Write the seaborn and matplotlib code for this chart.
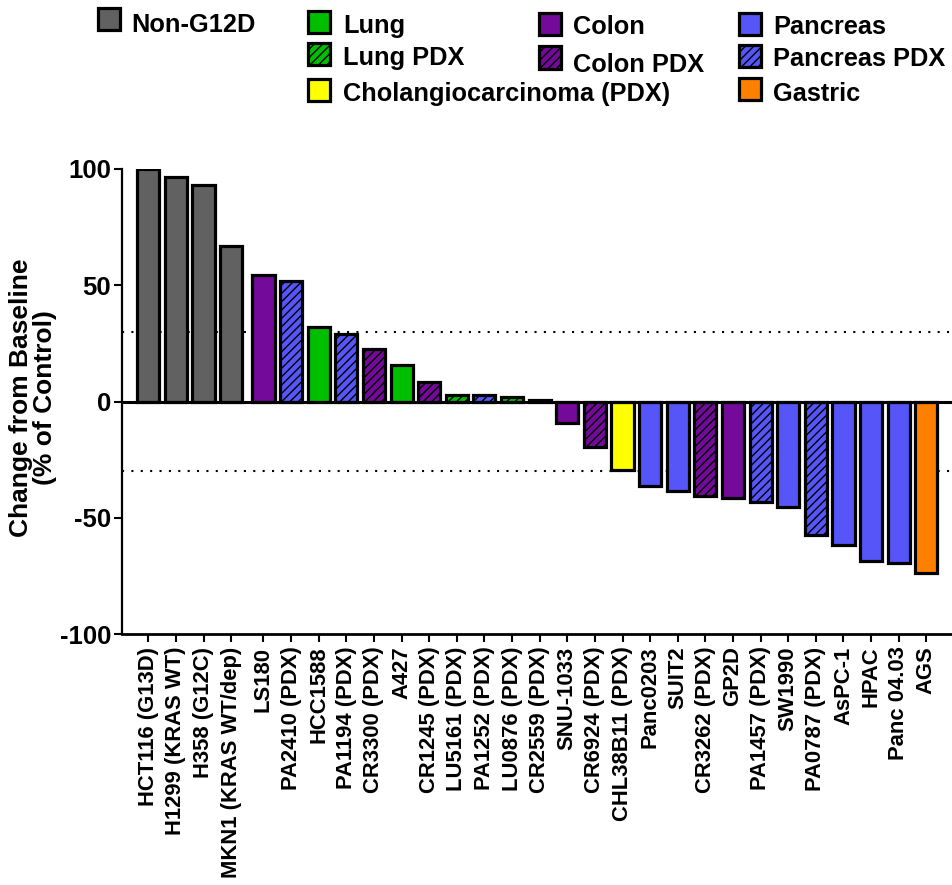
import numpy as np
import pandas as pd
import seaborn as sns
import matplotlib.pyplot as plt
from matplotlib.patches import Rectangle

# ---- data -------------------------------------------------------------
cell_lines = [
    "HCT116 (G13D)", "H1299 (KRAS WT)", "H358 (G12C)", "MKN1 (KRAS WT/dep)",
    "LS180", "PA2410 (PDX)", "HCC1588", "PA1194 (PDX)", "CR3300 (PDX)", "A427",
    "CR1245 (PDX)", "LU5161 (PDX)", "PA1252 (PDX)", "LU0876 (PDX)", "CR2559 (PDX)",
    "SNU-1033", "CR6924 (PDX)", "CHL38B11 (PDX)", "Panc0203", "SUIT2",
    "CR3262 (PDX)", "GP2D", "PA1457 (PDX)", "SW1990", "PA0787 (PDX)",
    "AsPC-1", "HPAC", "Panc 04.03", "AGS",
]
change_pct = [
    100.0, 96.5, 93.3, 67.0,
    54.2, 52.0, 32.0, 29.0, 22.6, 15.7,
    8.5, 3.0, 3.0, 2.0, 0.5,
    -9.2, -19.4, -29.3, -36.5, -38.6,
    -40.5, -41.6, -43.3, -45.4, -57.4,
    -61.6, -68.8, -69.6, -73.7,
]
tumor_type = [
    "Non-G12D", "Non-G12D", "Non-G12D", "Non-G12D",
    "Colon", "Pancreas PDX", "Lung", "Pancreas PDX", "Colon PDX", "Lung",
    "Colon PDX", "Lung PDX", "Pancreas PDX", "Lung PDX", "Colon PDX",
    "Colon", "Colon PDX", "Cholangiocarcinoma (PDX)", "Pancreas", "Pancreas",
    "Colon PDX", "Colon", "Pancreas PDX", "Pancreas", "Pancreas PDX",
    "Pancreas", "Pancreas", "Pancreas", "Gastric",
]
threshold = 30

type_colors = {
    "Non-G12D": "#616161",
    "Lung": "#00BF00",
    "Lung PDX": "#00BF00",
    "Colon": "#740A99",
    "Colon PDX": "#740A99",
    "Pancreas": "#5555F8",
    "Pancreas PDX": "#5555F8",
    "Cholangiocarcinoma (PDX)": "#FFFF00",
    "Gastric": "#FF8000",
}
hatched_types = {"Lung PDX", "Colon PDX", "Pancreas PDX"}

# ---- style ------------------------------------------------------------
sns.set_style("ticks")
plt.rcParams["font.family"] = ["Liberation Sans", "DejaVu Sans"]
plt.rcParams["font.weight"] = "bold"
plt.rcParams["axes.labelweight"] = "bold"
plt.rcParams["text.color"] = "black"
plt.rcParams["axes.labelcolor"] = "black"
plt.rcParams["xtick.color"] = "black"
plt.rcParams["ytick.color"] = "black"
plt.rcParams["hatch.linewidth"] = 1.0

# the control (non-G12D) lines sit slightly apart from the G12D models
group_gap = 0.17
idx = np.arange(len(cell_lines))
x_pos = idx + np.where(idx >= 4, group_gap, 0.0)

df = pd.DataFrame({"pos": x_pos, "change": change_pct,
                   "line": cell_lines, "type": tumor_type})

fig = plt.figure(figsize=(9.52, 8.85), dpi=100)
ax = fig.add_axes([122 / 952, 1 - 634 / 885, 830 / 952, (634 - 169) / 885])

# reference lines behind the bars
for lvl in (threshold, -threshold):
    ax.axhline(lvl, color="black", lw=1.5, linestyle=(0, (1, 3.5)), zorder=0.5)

sns.barplot(data=df, x="pos", y="change", native_scale=True, width=0.8,
            color="#888888", edgecolor="black", linewidth=2.3,
            errorbar=None, ax=ax, zorder=2)

for patch, t in zip(ax.patches, df["type"]):
    patch.set_facecolor(type_colors[t])
    patch.set_edgecolor("black")
    if t in hatched_types:
        patch.set_hatch("////")

ax.axhline(0, color="black", lw=2.2, zorder=3)

ax.set_ylim(-100, 100)
ax.set_xlim(x_pos[0] - 0.952, x_pos[0] + 29.10)
ax.set_yticks([-100, -50, 0, 50, 100])
ax.set_yticklabels(["-100", "-50", "0", "50", "100"], fontsize=18.5,
                   fontweight="bold")
ax.set_xticks(x_pos)
ax.set_xticklabels(cell_lines, rotation=90, ha="center", va="top",
                   fontsize=15.8, fontweight="bold")
ax.tick_params(axis="y", length=6, width=1.5, pad=2, color="black",
               labelcolor="black")
ax.tick_params(axis="x", length=5.5, width=1.5, pad=3.5, color="black",
               labelcolor="black")

ax.set_xlabel("")
ax.set_ylabel("Change from Baseline\n(% of Control)", fontsize=19,
              fontweight="bold", linespacing=1.0, color="black")
ax.yaxis.set_label_coords((33.5 - 122) / 830, (634 - 398) / 465)
ax.yaxis.label.set_va("center")

sns.despine(ax=ax)
ax.spines["left"].set_linewidth(1.6)
ax.spines["bottom"].set_linewidth(2.0)
ax.spines["left"].set_color("black")
ax.spines["bottom"].set_color("black")

# ---- legend (figure pixels: patch left/top, text left, text baseline) --
legend_entries = [
    ("Non-G12D", 96.7, 6.7, 131.7, 31.7),
    ("Lung", 306.7, 9.3, 343, 33.0),
    ("Lung PDX", 306.7, 41.7, 343, 65.0),
    ("Cholangiocarcinoma (PDX)", 306.7, 77.7, 343, 101.5),
    ("Colon", 537, 11.7, 572.7, 34.3),
    ("Colon PDX", 537, 45.0, 572.7, 72.0),
    ("Pancreas", 737, 11.7, 773, 34.3),
    ("Pancreas PDX", 737, 43.3, 773, 66.0),
    ("Gastric", 737, 76.7, 773, 101.0),
]
W, H = 952, 885
box = 22
for label, px, py, tx, ty in legend_entries:
    rect = Rectangle(((px + 1.5) / W, 1 - (py + 1.5 + box) / H), box / W, box / H,
                     transform=fig.transFigure, facecolor=type_colors[label],
                     edgecolor="black", lw=2.3,
                     hatch="////" if label in hatched_types else None)
    fig.add_artist(rect)
    fig.text(tx / W, 1 - ty / H, label, fontsize=18.3, fontweight="bold",
             ha="left", va="baseline", color="black")

fig.savefig("out.png", dpi=100)
